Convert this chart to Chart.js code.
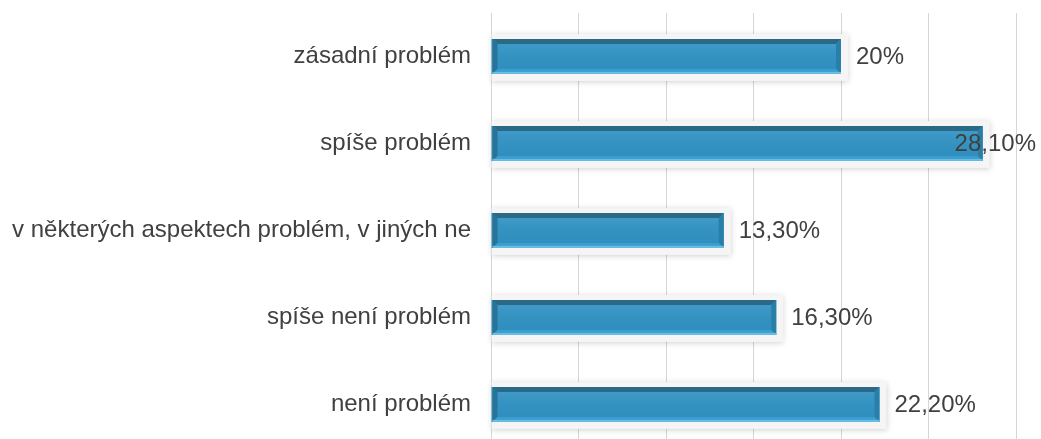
<!DOCTYPE html>
<html lang="cs">
<head>
    <meta charset="UTF-8">
    <title>Problém - rozložení odpovědí</title>
    <script src="https://cdn.jsdelivr.net/npm/chart.js"></script>
    <style>
        body { margin: 0; background: #fff; overflow: hidden; }
        .chart-container { width: 1041px; height: 449px; position: relative; }
    </style>
</head>
<body>
    <div class="chart-container">
        <canvas id="problemChart"></canvas>
    </div>

    <script>
        // Données
        const categories = [
            'zásadní problém',
            'spíše problém',
            'v některých aspektech problém, v jiných ne',
            'spíše není problém',
            'není problém'
        ];
        const values = [20, 28.1, 13.3, 16.3, 22.2];
        const valueLabels = ['20%', '28,10%', '13,30%', '16,30%', '22,20%'];
        const axisMin = 0;
        const axisMax = 30;
        const axisStep = 5;

        const FONT = '"Liberation Sans", Arial, sans-serif';
        const FONT_SIZE = 24;
        const TEXT_COLOR = '#404040';

        // Cadre clair avec ombre autour des barres + biseau
        const barFrame = {
            id: 'barFrame',
            beforeDatasetsDraw(chart) {
                const ctx = chart.ctx;
                chart.getDatasetMeta(0).data.forEach(bar => {
                    const left = Math.min(bar.base, bar.x);
                    const right = Math.max(bar.base, bar.x);
                    const top = bar.y - bar.height / 2;
                    const bottom = bar.y + bar.height / 2;
                    ctx.save();
                    ctx.shadowColor = 'rgba(0,0,0,0.18)';
                    ctx.shadowBlur = 6;
                    ctx.shadowOffsetY = 1;
                    ctx.fillStyle = '#f5f5f5';
                    ctx.fillRect(left, top - 5, right - left + 7, bottom - top + 12);
                    ctx.restore();
                });
            },
            afterDatasetsDraw(chart) {
                const ctx = chart.ctx;
                const b = 5;
                chart.getDatasetMeta(0).data.forEach(bar => {
                    const L = Math.min(bar.base, bar.x) + 1;
                    const R = Math.max(bar.base, bar.x);
                    const T = bar.y - bar.height / 2;
                    const B = bar.y + bar.height / 2;
                    const poly = (pts, color) => {
                        ctx.beginPath();
                        ctx.moveTo(pts[0][0], pts[0][1]);
                        pts.slice(1).forEach(p => ctx.lineTo(p[0], p[1]));
                        ctx.closePath();
                        ctx.fillStyle = color;
                        ctx.fill();
                    };
                    ctx.save();
                    const g = ctx.createLinearGradient(0, T, 0, B);
                    g.addColorStop(0, 'rgba(255,255,255,0.10)');
                    g.addColorStop(1, 'rgba(0,0,0,0.04)');
                    ctx.fillStyle = g;
                    ctx.fillRect(L + b, T + b, R - L - 2 * b, B - T - 2 * b);
                    poly([[L, T], [R, T], [R - b, T + b], [L + b, T + b]], '#2b6986');
                    poly([[L, T], [L + b, T + b], [L + b, B - b], [L, B]], '#2a7397');
                    poly([[R, T], [R - b, T + b], [R - b, B - b], [R, B]], '#2a7fa9');
                    poly([[L, B], [L + b, B - b], [R - b, B - b], [R, B]], '#3a9fd0');
                    ctx.fillStyle = '#6bbde3';
                    ctx.fillRect(L, B - 2, R - L, 2);
                    ctx.restore();
                });
            }
        };

        // Étiquettes de valeurs à droite des barres
        const valueLabelPlugin = {
            id: 'valueLabels',
            afterDatasetsDraw(chart) {
                const ctx = chart.ctx;
                ctx.save();
                ctx.font = FONT_SIZE + 'px ' + FONT;
                ctx.fillStyle = TEXT_COLOR;
                ctx.textAlign = 'left';
                ctx.textBaseline = 'middle';
                chart.getDatasetMeta(0).data.forEach((bar, i) => {
                    const text = valueLabels[i];
                    const w = ctx.measureText(text).width;
                    let x = bar.x + 15;
                    if (x + w > chart.width - 5) x = chart.width - 5 - w;
                    ctx.fillText(text, x, bar.y + 1);
                });
                ctx.restore();
            }
        };

        const ctx = document.getElementById('problemChart').getContext('2d');
        const chart = new Chart(ctx, {
            type: 'bar',
            data: {
                labels: categories,
                datasets: [{
                    data: values,
                    backgroundColor: '#2f94c6',
                    borderWidth: 0,
                    barPercentage: 0.4,
                    categoryPercentage: 1.0
                }]
            },
            options: {
                indexAxis: 'y',
                responsive: true,
                maintainAspectRatio: false,
                animation: false,
                layout: { padding: { top: 13, right: 25, bottom: 1, left: 0 } },
                plugins: {
                    legend: { display: false },
                    tooltip: { enabled: false }
                },
                scales: {
                    x: {
                        min: axisMin,
                        max: axisMax,
                        afterFit(scale) {
                            scale.height = 0;
                            scale.paddingLeft = 0;
                            scale.paddingRight = 0;
                        },
                        ticks: { display: false, stepSize: axisStep },
                        grid: { color: '#d6d6d6', lineWidth: 1, drawTicks: false },
                        border: { display: false }
                    },
                    y: {
                        afterFit(scale) {
                            scale.width = 491;
                            scale.paddingTop = 0;
                            scale.paddingBottom = 0;
                        },
                        ticks: {
                            color: TEXT_COLOR,
                            font: { family: FONT, size: FONT_SIZE },
                            padding: 20
                        },
                        grid: { display: false, drawTicks: false },
                        border: { display: false }
                    }
                }
            },
            plugins: [barFrame, valueLabelPlugin]
        });
    </script>
</body>
</html>
